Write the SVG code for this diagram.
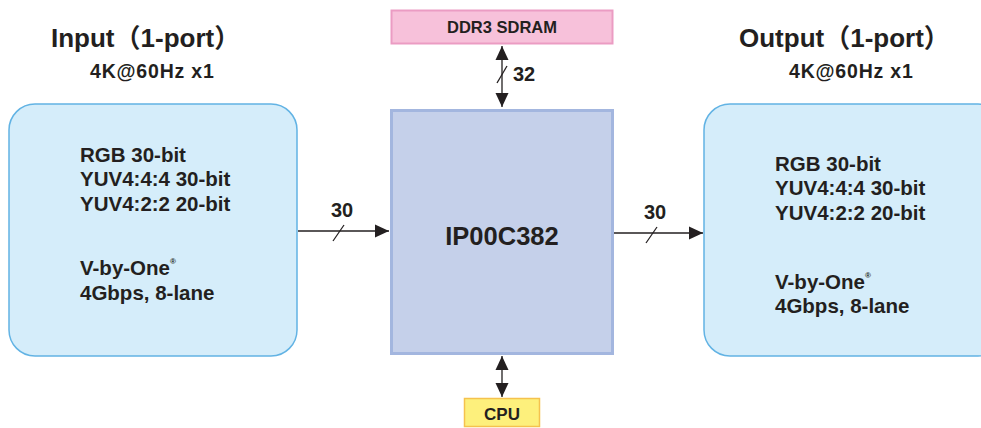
<svg xmlns="http://www.w3.org/2000/svg" width="981" height="428" viewBox="0 0 981 428">
<style>
text{font-family:"Liberation Sans","Noto Sans CJK SC",Arial,sans-serif;font-weight:bold;fill:#231f20}
.port{fill:#d5edfa;stroke:#62b3e4;stroke-width:1.5}
.t18{font-size:20.5px}
.sub{font-size:19.5px;letter-spacing:0.8px}
.ttl{font-size:26px}
.num{font-size:20px}
.ln{stroke:#231f20;stroke-width:1.3;fill:none}
</style>
<defs>
<marker id="ah2" viewBox="0 0 14 14" refX="14" refY="7" markerWidth="14" markerHeight="14" markerUnits="userSpaceOnUse" orient="auto-start-reverse">
<path d="M0,0.5 L14,7 L0,13.5 z" fill="#231f20"/>
</marker>
</defs>
<rect width="981" height="428" fill="#ffffff"/>
<g id="input">
<text class="ttl" x="51" y="47">Input（1-port）</text>
<text class="sub" x="90" y="78">4K@60Hz x1</text>
<rect class="port" x="9" y="104" width="288" height="252" rx="26"/>
<text class="t18" x="80" y="162">RGB 30-bit</text>
<text class="t18" x="80" y="186">YUV4:4:4 30-bit</text>
<text class="t18" x="80" y="211">YUV4:2:2 20-bit</text>
<text class="t18" x="80" y="275">V-by-One<tspan font-size="8" dy="-11">®</tspan></text>
<text class="t18" x="80" y="300">4Gbps, 8-lane</text>
</g>
<g id="output">
<text class="ttl" x="739" y="47">Output（1-port）</text>
<text class="sub" x="789" y="78">4K@60Hz x1</text>
<rect class="port" x="704" y="104" width="300" height="252" rx="26"/>
<text class="t18" x="775" y="171">RGB 30-bit</text>
<text class="t18" x="775" y="195">YUV4:4:4 30-bit</text>
<text class="t18" x="775" y="220">YUV4:2:2 20-bit</text>
<text class="t18" x="775" y="289">V-by-One<tspan font-size="8" dy="-11">®</tspan></text>
<text class="t18" x="775" y="313">4Gbps, 8-lane</text>
</g>
<g id="ip">
<rect x="391.5" y="110.5" width="221" height="243" fill="#c5d0ea" stroke="#a3b6df" stroke-width="3"/>
<text x="502" y="245" font-size="25.5" text-anchor="middle">IP00C382</text>
</g>
<g id="ddr">
<rect x="391.5" y="10.5" width="221" height="33" fill="#f7c1da" stroke="#eb9cc3" stroke-width="2"/>
<text x="502" y="33" font-size="16.5" text-anchor="middle">DDR3 SDRAM</text>
</g>
<g id="cpu">
<rect x="464.5" y="398.5" width="75" height="28" fill="#fdf07c" stroke="#f5c24e" stroke-width="1.5"/>
<text x="502" y="420" font-size="17" text-anchor="middle">CPU</text>
</g>
<g id="connectors">
<path class="ln" d="M502,46 L502,107" marker-start="url(#ah2)" marker-end="url(#ah2)"/>
<path class="ln" d="M497,83 L507,66"/>
<text class="num" x="513" y="81">32</text>
<path class="ln" d="M502,356 L502,397" marker-start="url(#ah2)" marker-end="url(#ah2)"/>
<path class="ln" d="M298,231 L389,231" marker-end="url(#ah2)"/>
<path class="ln" d="M333,241 L344,225"/>
<text class="num" x="342" y="217" text-anchor="middle">30</text>
<path class="ln" d="M614,233 L703,233" marker-end="url(#ah2)"/>
<path class="ln" d="M646,243 L657,227"/>
<text class="num" x="655" y="219" text-anchor="middle">30</text>
</g>
</svg>
